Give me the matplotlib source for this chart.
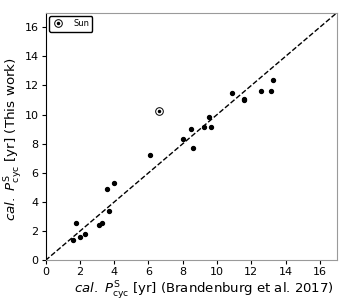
import matplotlib
matplotlib.use("Agg")
import matplotlib.pyplot as plt
import numpy as np

# cycle periods [yr]
p_brandenburg = [1.6, 1.8, 2.0, 2.3, 3.1, 3.3, 3.6, 3.7, 4.0, 6.1,
                 8.0, 8.5, 8.6, 9.25, 9.55, 9.65, 10.85, 11.6, 11.6,
                 12.55, 13.15, 13.25]
p_this_work = [1.4, 2.6, 1.6, 1.8, 2.4, 2.6, 4.9, 3.4, 5.3, 7.2,
               8.3, 9.0, 7.7, 9.15, 9.85, 9.15, 11.45, 11.0, 11.1,
               11.65, 11.65, 12.35]
sun_x = [6.6]
sun_y = [10.25]
lim = [0, 17]

fig, ax = plt.subplots(figsize=(3.5, 3.0), dpi=100)
fig.subplots_adjust(left=0.13, right=0.963, bottom=0.132, top=0.958)

ax.plot(lim, lim, 'k--', lw=1.0, zorder=1)
ax.scatter(p_brandenburg, p_this_work, s=8, c='k', zorder=3)
ring, = ax.plot(sun_x, sun_y, ls='none', marker='o', mfc='none', mec='k',
                ms=5.5, mew=0.7, zorder=3)
dot, = ax.plot(sun_x, sun_y, ls='none', marker='o', color='k', ms=1.5,
               zorder=4)

ax.set_xlim(lim)
ax.set_ylim(lim)
ax.set_xticks(np.arange(0, 17, 2))
ax.set_yticks(np.arange(0, 17, 2))
ax.tick_params(labelsize=8, length=3, width=0.8, pad=2)

for side in ['top', 'right', 'bottom']:
    ax.spines[side].set_color('#9a9a9a')
ax.spines['left'].set_color('k')

ax.set_xlabel(r'$cal.\ P^{\rm S}_{\rm cyc}$ [yr] (Brandenburg et al. 2017)',
              fontsize=9.5)
ax.set_ylabel(r'$cal.\ P^{\rm S}_{\rm cyc}$ [yr] (This work)',
              fontsize=9.7)
ax.xaxis.set_label_coords(0.545, -0.075)
ax.yaxis.set_label_coords(-0.075, 0.49)

leg = ax.legend([(ring, dot)], ['Sun'], loc='upper left', fontsize=6,
                frameon=True, fancybox=True, borderaxespad=0.4,
                handletextpad=1.0, handlelength=1.5)
leg.get_frame().set_edgecolor('k')
leg.get_frame().set_alpha(1)

fig.savefig('out.png', dpi=100)
